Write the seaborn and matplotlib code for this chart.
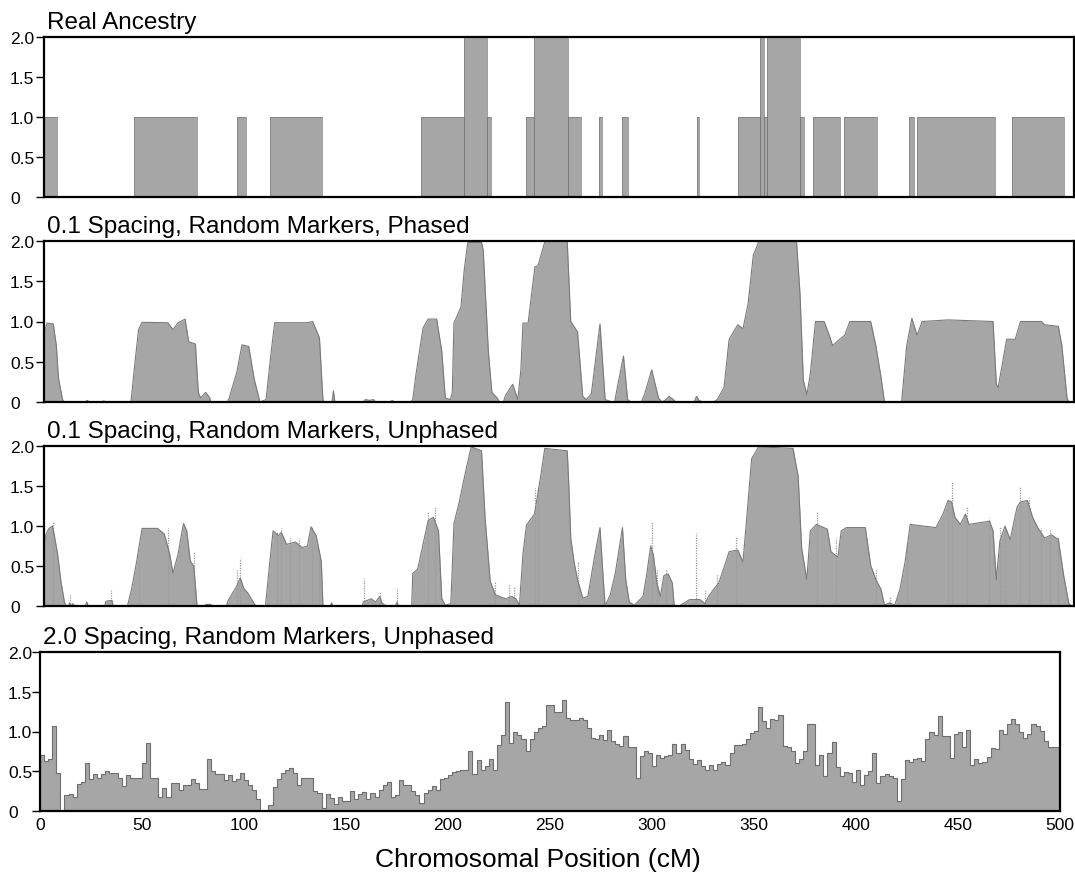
import numpy as np
import pandas as pd
import matplotlib
matplotlib.use("Agg")
import matplotlib.pyplot as plt
import seaborn as sns

# ---------------- data ----------------
TITLES = ["Real Ancestry",
          "0.1 Spacing, Random Markers, Phased",
          "0.1 Spacing, Random Markers, Unphased",
          "2.0 Spacing, Random Markers, Unphased"]
XLABEL = "Chromosomal Position (cM)"
Y_TICKS = [0, 0.5, 1.0, 1.5, 2.0]
Y_TICK_LABELS = ["0", "0.5", "1.0", "1.5", "2.0"]
X_TICKS = [0, 50, 100, 150, 200, 250, 300, 350, 400, 450, 500]

# Panel 1: real ancestry segments (start cM, end cM, copies)
RA_START = [0, 43.7, 93.6, 109.7, 183, 203.7, 215, 234, 237.8, 254.5, 269.4, 280.6, 317,
            336.8, 347.5, 349.5, 351.2, 367, 373.3, 388.2, 420, 423.8, 470]
RA_END = [6.5, 74.3, 98, 135, 203.7, 215, 217, 237.8, 254.5, 260.7, 271, 283.3, 318,
          347.5, 349.5, 351.2, 367, 369, 386.3, 404.3, 422.3, 461.8, 495.3]
RA_LEVEL = [1, 1, 1, 1, 1, 2, 1, 1, 2, 1, 1, 1, 1,
            1, 2, 1, 2, 1, 1, 1, 1, 1, 1]

# Panel 2: phased estimate (cM, value)
P2_X = [0, 0.5, 1.5, 4.5, 6, 7, 9, 10, 20, 21, 22, 28, 29, 30,
        42.2, 44.2, 45.9, 47.6, 60.1, 62.6, 65.1, 68.5, 70.2, 73.5, 74.9, 76, 78.5, 80.5, 81,
        89, 89.9, 93.6, 96.1, 99.4, 102, 104.8,
        107.8, 110.3, 112, 127.9, 130.4, 133.7, 135.4, 136,
        139.8, 140.5, 141.2, 155, 156, 158, 160, 161, 168, 169, 170,
        178, 179, 180.6, 184, 186.5, 190.6, 193.1, 194.8, 197.3,
        198.2, 199, 202.4, 204, 205.7, 212.4, 213.2, 215.7, 217.4, 220, 221,
        223, 224, 227.5, 230, 231.5,
        232.5, 235, 238.3, 239.8, 243.1, 254, 255.7, 259, 261.5, 263.2, 265.7, 269.9, 272.4, 275.8,
        277, 278.3, 281.3, 283.3, 285, 290, 291.6, 295, 298.3, 300, 302, 303.4, 305.5, 306.7,
        315.5, 316.8, 318, 320,
        325, 326.8, 330.1, 332.6, 336.8, 339.3, 341.8, 344.3, 346.9, 365.3, 367, 368.6, 370.3,
        372, 374.5, 378.7, 381.2, 382.8, 385.4, 388.7, 391.2, 401.3, 403.8, 406.3, 408,
        416.3, 418.8, 421.3, 423.8, 426.3, 438.9, 460.7, 462.3, 463.2, 467.3, 471.5, 474.0,
        484.1, 485.7, 492.4, 494.1, 496.6, 497.5, 500]
P2_Y = [0, 0.9, 0.98, 0.97, 0.7, 0.3, 0.03, 0, 0, 0.02, 0, 0, 0.015, 0,
        0, 0.5, 0.9, 0.99, 0.985, 0.9, 0.985, 1.03, 0.75, 0.72, 0.12, 0.05, 0.12, 0.05, 0,
        0, 0.05, 0.37, 0.71, 0.69, 0.29, 0,
        0.03, 0.63, 0.985, 0.985, 1.0, 0.8, 0.03, 0,
        0, 0.14, 0, 0, 0.03, 0.02, 0.03, 0, 0, 0.02, 0,
        0, 0.03, 0.35, 0.92, 1.03, 1.03, 0.63, 0.05, 0.03,
        0.12, 0.98, 1.18, 1.64, 1.98, 1.98, 1.89, 0.63, 0.12, 0.05, 0,
        0, 0.08, 0.22, 0.03, 0.4,
        0.98, 0.98, 1.68, 1.69, 1.99, 1.99, 1.0, 0.87, 0.07, 0.03, 0.1, 0.97, 0.03, 0.0,
        0.0, 0.18, 0.57, 0.03, 0, 0, 0.1, 0.4, 0.05, 0, 0.03, 0.07, 0.03, 0,
        0, 0.07, 0.02, 0,
        0, 0.03, 0.18, 0.78, 0.96, 0.91, 1.22, 1.82, 1.99, 1.99, 1.34, 0.27, 0.09,
        0.35, 1.0, 1.0, 0.83, 0.7, 0.76, 0.83, 1.0, 1.0, 0.7, 0.31, 0,
        0, 0.7, 1.04, 0.83, 1.0, 1.02, 1.0, 0.22, 0.18, 0.78, 0.78, 1.0,
        1.0, 0.96, 0.94, 0.7, 0.05, 0, 0]

# Panel 3: unphased estimate, envelope (cM, value)
P3_X = [0, 0.5, 0.7, 2.4, 4.1, 4.9, 6.6, 8.2, 9.9, 10.8,
        12, 12.4, 13, 14, 15, 20, 20.8, 21.5, 29.5, 30, 33, 33.5,
        40.5, 42.6, 45, 47.6, 55.1, 58.4, 61, 62.6, 65.1, 67.7, 69.3, 71, 72.7, 74.3,
        78, 78.5, 81, 81.5,
        88.5, 89.4, 93.6, 95.3, 97, 99, 102, 103,
        107.5, 109.5, 111.2, 113.7, 115.2, 117.8, 122, 125.4, 127.9, 129.6, 132.1, 134.6, 135.4,
        139, 139.6, 140.2,
        154.5, 155, 158.8, 161, 163, 164, 166, 170.5, 171.4, 172,
        178.5, 179, 181.4, 184, 186.5, 189, 191.5, 193.1, 194.8,
        197.5, 199, 201.5, 204.9, 207.4, 212.4, 214.1, 216.6, 219.1, 224.1, 227, 229.1, 230.8,
        232.5, 234.2, 238.1, 241.4, 243.1, 254, 254.8, 255.7, 257.3, 259, 261.5, 264, 267.4,
        269.9, 271.6, 272.4,
        274.9, 277.4, 280.8, 282.4, 284.1, 286.6,
        290.8, 292.5, 294.5, 295.8, 297.5, 299.2, 300.9, 303, 305, 305.9,
        308.4, 313.4, 318.4, 320.9,
        322.6, 325.1, 327.6, 331, 332.6, 336.8, 339.3, 341, 343.5, 346.9, 363.6, 366.1, 367.8, 370.3,
        372, 375, 380.3, 382, 385.4, 387, 389.5, 398.7, 401.3, 403.8, 406.3, 408, 410.5, 413,
        415.5, 418, 420.5, 433, 436.4, 438.9, 440.6, 442.2, 444.8, 447.3, 449, 459, 460.7,
        462.3, 464, 466.5, 469, 472.4, 474, 477.4, 479.9, 482.4, 485.7, 489.1, 492.4, 495,
        497.5, 499, 500]
P3_Y = [0, 0.8, 0.88, 0.97, 1.0, 0.9, 0.65, 0.31, 0.05, 0,
        0, 0.04, 0, 0.03, 0, 0, 0.05, 0, 0, 0.06, 0.07, 0,
        0, 0.22, 0.56, 0.97, 0.97, 0.9, 0.65, 0.41, 0.65, 1.03, 0.94, 0.56, 0.5, 0,
        0, 0.02, 0.02, 0,
        0, 0.07, 0.25, 0.35, 0.22, 0.16, 0.03, 0,
        0, 0.52, 0.94, 0.88, 0.92, 0.77, 0.8, 0.73, 0.75, 0.99, 0.88, 0.56, 0,
        0, 0.04, 0,
        0, 0.05, 0.09, 0.05, 0.12, 0.04, 0, 0, 0.05, 0,
        0, 0.41, 0.46, 0.77, 1.07, 1.11, 0.94, 0.09, 0.01,
        0.03, 1.03, 1.29, 1.71, 1.99, 1.94, 1.11, 0.31, 0.14, 0.09, 0.12, 0.09, 0.01,
        0.65, 1.01, 1.15, 1.67, 1.97, 1.94, 1.49, 0.85, 0.55, 0.33, 0.1, 0.12, 0.64,
        0.98, 0.29, 0,
        0.14, 0.42, 0.98, 0.33, 0.05, 0.01,
        0.12, 0.38, 0.75, 0.64, 0.29, 0.12, 0.38, 0.4, 0.29, 0.01,
        0, 0.08, 0.08, 0.03,
        0.12, 0.21, 0.29, 0.55, 0.68, 0.7, 0.55, 1.06, 1.84, 1.99, 1.97, 1.62, 0.72, 0.33,
        0.94, 1.02, 0.96, 0.68, 0.61, 0.94, 0.98, 0.98, 0.51, 0.33, 0.21, 0.01, 0.04, 0.01,
        0.21, 0.55, 1.02, 0.98, 1.15, 1.32, 1.3, 1.11, 1.02, 1.15, 1.02, 1.06, 0.94,
        0.33, 0.81, 1.0, 0.83, 1.24, 1.3, 1.32, 1.11, 0.98, 0.85, 0.89, 0.83, 0.38,
        0.03, 0, 0]

# Panel 3: isolated spikes above the envelope (cM, value)
SPIKE_X = [4.3, 12.4, 32.5, 46, 60, 72.7, 93.6, 95.3, 112.9, 115.2, 119.5, 124, 130, 133.7,
           155.5, 163, 171.4, 186.5, 189.8, 219, 225.8, 228.3, 238.3, 239.8, 259, 295, 297.5,
           302, 316.4, 320.9, 326.8, 336, 375.3, 384.5, 403.8, 410.5, 418.8, 438.9, 440.6,
           448.1, 458.6, 464, 466.5, 474, 478.2, 484, 488.3, 492.4]
SPIKE_Y = [1.06, 0.14, 0.2, 0.56, 0.97, 0.67, 0.45, 0.6, 0.93, 0.97, 0.85, 0.85, 0.99, 0.63,
           0.35, 0.18, 0.22, 1.17, 1.24, 0.3, 0.27, 0.25, 1.48, 1.49, 0.55, 1.06, 0.45,
           0.46, 0.91, 0.2, 0.4, 0.87, 1.19, 0.85, 0.45, 0.12, 0.76, 1.33, 1.56,
           1.24, 1.1, 1.0, 1.0, 1.5, 1.35, 0.97, 0.95, 0.88]

# Panel 4: 2 cM bins, 250 values
BIN_WIDTH = 2
P4_VALUES = [
    0.70, 0.63, 0.65, 1.07, 0.48, 0.00, 0.20, 0.21, 0.17, 0.34,
    0.37, 0.61, 0.40, 0.46, 0.41, 0.46, 0.50, 0.48, 0.48, 0.42,
    0.32, 0.45, 0.42, 0.41, 0.41, 0.60, 0.85, 0.42, 0.42, 0.17,
    0.29, 0.17, 0.35, 0.35, 0.27, 0.33, 0.33, 0.40, 0.35, 0.28,
    0.28, 0.66, 0.50, 0.47, 0.47, 0.39, 0.45, 0.38, 0.40, 0.48,
    0.39, 0.33, 0.26, 0.15, 0.00, 0.00, 0.07, 0.30, 0.40, 0.48,
    0.52, 0.54, 0.48, 0.33, 0.41, 0.41, 0.41, 0.25, 0.23, 0.04,
    0.21, 0.16, 0.09, 0.18, 0.12, 0.12, 0.25, 0.15, 0.22, 0.24,
    0.15, 0.23, 0.18, 0.26, 0.33, 0.36, 0.18, 0.20, 0.39, 0.33,
    0.33, 0.25, 0.20, 0.10, 0.23, 0.27, 0.31, 0.27, 0.40, 0.42,
    0.45, 0.49, 0.50, 0.52, 0.52, 0.76, 0.47, 0.64, 0.51, 0.57,
    0.65, 0.51, 0.83, 0.95, 1.37, 0.86, 1.00, 0.95, 0.90, 0.76,
    0.90, 0.99, 1.05, 1.07, 1.33, 1.33, 1.25, 1.25, 1.40, 1.17,
    1.15, 1.14, 1.17, 1.14, 1.05, 0.92, 0.91, 0.95, 0.89, 1.02,
    0.88, 0.84, 0.82, 0.94, 0.80, 0.80, 0.41, 0.69, 0.75, 0.73,
    0.57, 0.71, 0.67, 0.69, 0.71, 0.84, 0.73, 0.84, 0.77, 0.65,
    0.59, 0.64, 0.57, 0.52, 0.58, 0.52, 0.59, 0.62, 0.58, 0.73,
    0.83, 0.83, 0.84, 0.90, 0.98, 1.01, 1.31, 1.13, 1.05, 1.16,
    1.15, 1.21, 0.82, 0.80, 0.75, 0.60, 0.65, 0.76, 1.10, 1.10,
    0.58, 0.71, 0.44, 0.73, 0.87, 0.55, 0.44, 0.49, 0.48, 0.36,
    0.52, 0.33, 0.45, 0.50, 0.73, 0.35, 0.44, 0.47, 0.44, 0.42,
    0.12, 0.40, 0.64, 0.62, 0.66, 0.67, 0.63, 0.90, 1.00, 0.96,
    1.19, 0.94, 0.94, 0.67, 0.97, 0.99, 0.81, 1.02, 0.58, 0.66,
    0.60, 0.62, 0.68, 0.79, 0.78, 1.02, 0.97, 1.10, 1.16, 1.10,
    0.99, 0.92, 0.97, 1.10, 1.07, 1.01, 0.88, 0.80, 0.80, 0.80,
]

# ---------------- style ----------------
sns.set_theme(style="ticks")
plt.rcParams["font.family"] = ["Liberation Sans", "DejaVu Sans"]
plt.rcParams["text.color"] = "black"

FILL = "#a6a6a6"
EDGE = "#7a7a7a"
DPI = 100

fig = plt.figure(figsize=(10.75, 8.78), dpi=DPI)
H = 878.0
W = 1075.0
boxes = [  # left, top, right, bottom in pixels
    (44, 38, 1074, 198),
    (44, 242, 1074, 403),
    (44, 447, 1074, 607),
    (40, 653, 1060, 812),
]
label_left = [10, 10, 10, 8]   # left edge of y tick labels, pixels
axes = []
for (l, t, r, b) in boxes:
    axes.append(fig.add_axes([l / W, 1 - b / H, (r - l) / W, (b - t) / H]))

# Panel 1
ax = axes[0]
xs, ys = [0.0], [0.0]
for s, e, v in zip(RA_START, RA_END, RA_LEVEL):
    xs += [s, e]
    ys += [v, 0]
xs.append(500.0)
ys.append(0.0)
ax.fill_between(xs, ys, step="post", color=FILL, linewidth=0)
ax.step(xs, ys, where="post", color=EDGE, linewidth=0.5)

# Panel 2
ax = axes[1]
sns.lineplot(x=P2_X, y=P2_Y, ax=ax, color=EDGE, linewidth=0.8, estimator=None, sort=False)
ax.fill_between(P2_X, P2_Y, color=FILL, linewidth=0)

# Panel 3
ax = axes[2]
ax.vlines(SPIKE_X, 0, SPIKE_Y, colors="#9a9a9a", linewidth=0.9, linestyles=(0, (1, 1)))
ax.fill_between(P3_X, P3_Y, color=FILL, linewidth=0)
sns.lineplot(x=P3_X, y=P3_Y, ax=ax, color=EDGE, linewidth=0.8, estimator=None, sort=False)

# Panel 4
ax = axes[3]
centers = np.arange(len(P4_VALUES)) * BIN_WIDTH + BIN_WIDTH / 2
p4 = pd.DataFrame({"pos": centers, "val": P4_VALUES})
sns.histplot(data=p4, x="pos", weights="val", binwidth=BIN_WIDTH, binrange=(0, 500),
             element="step", fill=True, color=FILL, alpha=1.0, ax=ax)
for coll in ax.collections:
    coll.set_edgecolor("#6e6e6e")
    coll.set_linewidth(0.8)

TICK_LEN_PT = 6
for i, ax in enumerate(axes):
    ax.set_xlim(0, 500)
    ax.set_ylim(0, 2.0)
    ax.set_yticks(Y_TICKS)
    ax.set_yticklabels(Y_TICK_LABELS)
    ax.set_ylabel("")
    ax.set_xlabel("")
    for sp in ax.spines.values():
        sp.set_visible(True)
        sp.set_color("black")
        sp.set_linewidth(1.6)
    tick_px = TICK_LEN_PT * DPI / 72
    pad_pt = (boxes[i][0] - tick_px - label_left[i]) * 72 / DPI
    ax.tick_params(axis="y", direction="out", length=TICK_LEN_PT, width=1.0, labelsize=12.5,
                   colors="black", pad=pad_pt)
    for lab in ax.get_yticklabels():
        lab.set_horizontalalignment("left")
    ax.text(0.003, 1.025, TITLES[i], transform=ax.transAxes, ha="left", va="bottom",
            fontsize=17.5, color="black")
    if i < 3:
        ax.set_xticks([])
    else:
        ax.set_xticks(X_TICKS)
        ax.set_xticklabels([str(t) for t in X_TICKS])
        ax.tick_params(axis="x", length=0, labelsize=12.5, pad=4, colors="black")
    ax.set_facecolor("white")

fig.text(0.5, 1 - 860 / H, XLABEL, ha="center", va="center", fontsize=19, color="black")

fig.savefig("out.png", dpi=DPI, facecolor="white")
